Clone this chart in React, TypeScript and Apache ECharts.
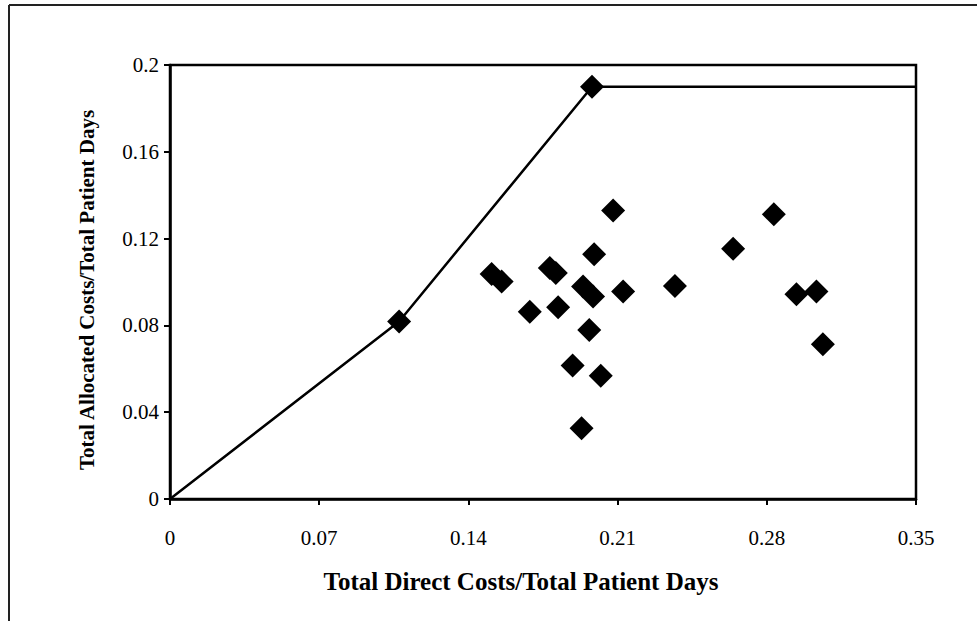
import React, { useEffect, useRef } from "react";
import * as echarts from "echarts";

const xTicks = [0, 0.07, 0.14, 0.21, 0.28, 0.35];
const yTicks = [0, 0.04, 0.08, 0.12, 0.16, 0.2];

// Efficient frontier (line with markers at the frontier units)
const frontierX = [0, 0.1075, 0.198, 0.35];
const frontierY = [0, 0.0818, 0.19, 0.19];
const frontierMarked = [false, true, true, false];

// Other units
const unitX = [
  0.2079, 0.199, 0.1509, 0.1556, 0.1782, 0.181, 0.1938, 0.1985, 0.2126, 0.2369,
  0.1688, 0.1821, 0.1967, 0.1889, 0.2021, 0.1931, 0.2833, 0.2642, 0.2939, 0.3033,
  0.3063,
];
const unitY = [
  0.1329, 0.1128, 0.1037, 0.1002, 0.1065, 0.1042, 0.0979, 0.0933, 0.0956, 0.0982,
  0.0863, 0.0884, 0.0779, 0.0615, 0.0568, 0.0326, 0.1312, 0.1153, 0.0944, 0.0956,
  0.0713,
];

const xTitle = "Total Direct Costs/Total Patient Days";
const yTitle = "Total Allocated Costs/Total Patient Days";

const FONT = "'Liberation Serif', 'Times New Roman', serif";

export default function App() {
  const ref = useRef<HTMLDivElement>(null);
  useEffect(() => {
    if (!ref.current) return;
    const chart = echarts.init(ref.current, undefined, { renderer: "svg" });
    const frontierData = frontierX.map((x, i) => ({
      value: [x, frontierY[i]],
      symbolSize: frontierMarked[i] ? 24 : 0,
    }));
    const unitData = unitX.map((x, i) => [x, unitY[i]]);
    chart.setOption({
      animation: false,
      backgroundColor: "#ffffff",
      grid: {
        left: 170,
        top: 65,
        width: 746,
        height: 434,
        show: true,
        borderColor: "#000",
        borderWidth: 2.5,
        containLabel: false,
      },
      xAxis: {
        type: "value",
        min: xTicks[0],
        max: xTicks[xTicks.length - 1],
        interval: xTicks[1] - xTicks[0],
        splitLine: { show: false },
        axisLine: { show: true, lineStyle: { color: "#000", width: 2.5 } },
        axisTick: { show: true, inside: false, length: 6, lineStyle: { color: "#000", width: 2 } },
        axisLabel: {
          color: "#000",
          fontFamily: FONT,
          fontSize: 21,
          margin: 28,
          formatter: (v: number) => {
            const t = xTicks.find((k) => Math.abs(k - v) < 1e-9);
            return t === undefined ? "" : String(t);
          },
        },
        name: xTitle,
        nameLocation: "middle",
        nameGap: 70,
        nameTextStyle: {
          color: "#000",
          fontFamily: FONT,
          fontSize: 25,
          fontWeight: "bold",
          padding: [0, 44, 0, 0],
        },
      },
      yAxis: {
        type: "value",
        min: yTicks[0],
        max: yTicks[yTicks.length - 1],
        interval: yTicks[1] - yTicks[0],
        splitLine: { show: false },
        axisLine: { show: true, lineStyle: { color: "#000", width: 2.5 } },
        axisTick: { show: true, inside: false, length: 6, lineStyle: { color: "#000", width: 2 } },
        axisLabel: {
          color: "#000",
          fontFamily: FONT,
          fontSize: 21,
          margin: 11,
          formatter: (v: number) => {
            const t = yTicks.find((k) => Math.abs(k - v) < 1e-9);
            return t === undefined ? "" : String(t);
          },
        },
        name: yTitle,
        nameLocation: "middle",
        nameGap: 73,
        nameTextStyle: {
          color: "#000",
          fontFamily: FONT,
          fontSize: 21,
          fontWeight: "bold",
          padding: [0, 16, 0, 0],
        },
      },
      series: [
        {
          type: "line",
          data: frontierData,
          symbol: "diamond",
          showSymbol: true,
          lineStyle: { color: "#000", width: 2.5 },
          itemStyle: { color: "#000", opacity: 1 },
          z: 3,
        },
        {
          type: "scatter",
          data: unitData,
          symbol: "diamond",
          symbolSize: 24,
          itemStyle: { color: "#000", opacity: 1 },
          z: 4,
        },
      ],
      graphic: [
        {
          type: "line",
          shape: { x1: 9, y1: 5, x2: 9, y2: 621 },
          style: { stroke: "#222", lineWidth: 2 },
        },
        {
          type: "line",
          shape: { x1: 9, y1: 5, x2: 977, y2: 5 },
          style: { stroke: "#222", lineWidth: 2 },
        },
      ],
    });
    return () => chart.dispose();
  }, []);
  return (
    <div
      ref={ref}
      style={{ position: "fixed", left: 0, top: 0, width: 977, height: 621, background: "#fff" }}
    />
  );
}
